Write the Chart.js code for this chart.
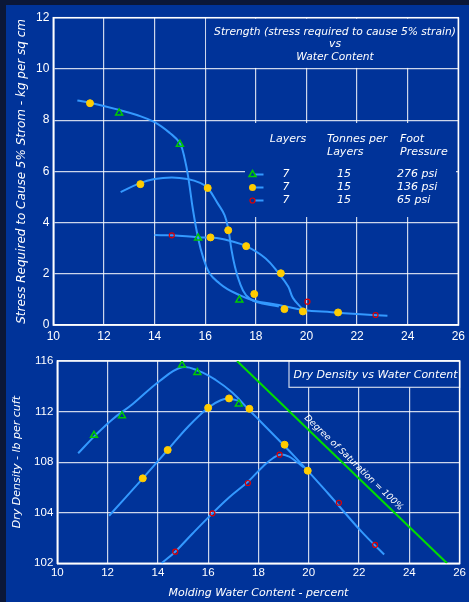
<!DOCTYPE html>
<html>
<head>
<meta charset="utf-8">
<script src="https://cdn.jsdelivr.net/npm/chart.js@4.4.1/dist/chart.umd.min.js"></script>
<style>
  html, body { margin: 0; padding: 0; background: #0b1738; }
  #page { position: relative; width: 469px; height: 602px; overflow: hidden; }
  #panel { position: absolute; left: 6px; top: 5px; right: 0; bottom: 0; background: #003399; }
  canvas { position: absolute; left: 0; }
  #top { top: 0; }
  #bottom { top: 340px; }
</style>
</head>
<body>
<div id="page">
  <div id="panel"></div>
  <canvas id="top" width="469" height="340"></canvas>
  <canvas id="bottom" width="469" height="262"></canvas>
</div>
<script>
// ---- upper chart: strength vs water content ----
var str276W = [12.6, 15.0, 15.72, 17.35]
var str276S = [8.28, 7.06, 3.40, 0.98]
var str136W = [11.45, 13.44, 16.1, 16.21, 16.91, 17.62, 17.94, 18.99, 19.13, 19.86, 21.25]
var str136S = [8.66, 5.50, 5.35, 3.42, 3.70, 3.08, 1.21, 2.02, 0.62, 0.53, 0.49]
var str65W = [14.68, 20.04, 22.73]
var str65S = [3.5, 0.91, 0.39]

// fitted curves as drawn on the sheet
var curveAW = [10.95, 11.45, 12.6, 13.3, 14.0, 14.6, 15.0, 15.2, 15.35, 15.52, 15.72, 15.91, 16.17, 16.57, 16.88, 17.22, 17.87, 18.91, 19.87, 21.0, 22.0, 23.2]
var curveAS = [8.77, 8.68, 8.4, 8.2, 7.92, 7.5, 7.1, 6.45, 5.65, 4.48, 3.4, 2.67, 2.02, 1.62, 1.4, 1.23, 0.97, 0.78, 0.59, 0.5, 0.43, 0.36]
var curveBW = [12.66, 13.38, 14.0, 14.68, 15.3, 15.8, 16.1, 16.5, 16.77, 16.92, 17.03, 17.16, 17.35, 17.61, 18.0, 18.91]
var curveBS = [5.19, 5.52, 5.7, 5.76, 5.7, 5.55, 5.35, 4.74, 4.28, 3.70, 2.99, 2.34, 1.69, 1.17, 0.91, 0.72]
var curveCW = [14.0, 14.68, 15.72, 16.23, 16.57, 17.0, 17.62, 18.39, 18.91, 19.28, 19.47, 19.87]
var curveCS = [3.51, 3.5, 3.43, 3.41, 3.38, 3.28, 3.08, 2.6, 2.01, 1.5, 1.05, 0.59]

// ---- lower chart: dry density vs water content ----
var den276W = [11.46, 12.57, 14.96, 15.57, 17.22]
var den276D = [110.12, 111.67, 115.68, 115.1, 112.6]
var den136W = [13.4, 14.39, 16.0, 16.83, 17.64, 19.04, 19.96]
var den136D = [106.72, 108.96, 112.3, 113.04, 112.22, 109.38, 107.32]
var den65W = [14.69, 16.17, 17.58, 18.84, 21.2, 22.64]
var den65D = [100.92, 103.95, 106.35, 108.59, 104.79, 101.45]

var dCurveAW = [10.83, 11.5, 12.2, 13.0, 14.06, 14.96, 15.64, 16.3, 16.96, 17.64, 18.14, 19.46, 20.78, 22.1, 23.0]
var dCurveAD = [108.7, 110.1, 111.4, 112.6, 114.4, 115.5, 115.2, 114.5, 113.5, 112.1, 111.1, 108.4, 105.5, 102.5, 100.7]
var dCurveBW = [12.06, 13.4, 14.39, 15.2, 16.0, 16.5, 16.9, 17.3]
var dCurveBD = [103.76, 106.72, 108.96, 110.8, 112.3, 112.9, 113.0, 112.8]
var dCurveCW = [14.15, 14.69, 15.4, 16.17, 16.83, 17.58, 18.2, 18.6, 18.9, 19.2, 19.5, 19.8]
var dCurveCD = [100.0, 100.92, 102.4, 103.95, 105.2, 106.45, 107.7, 108.35, 108.6, 108.45, 108.05, 107.6]
var satW = [17.15, 25.5]
var satD = [116, 100]

var legendLayers = ['7', '7', '7']
var legendTonnes = ['15', '15', '15']
var legendPressure = ['276 psi', '136 psi', '65 psi']

function pts(xs, ys) {
  return xs.map(function (x, i) { return { x: x, y: ys[i] } })
}

var ital = function (sz) { return 'italic ' + sz + 'px "DejaVu Sans"' }
var blueLine = '#3399ff'
var green = '#00cc00'
var yellow = '#ffcc00'
var red = '#e00000'
var gridCol = 'rgba(255,255,255,0.8)'
var panel = '#003399'

function markerSet(data, kind) {
  var ds = { data: data, showLine: false, pointHoverRadius: 0 }
  if (kind == 'tri') {
    ds.pointStyle = 'triangle'; ds.pointRadius = 4; ds.pointBorderWidth = 1.5
    ds.pointBackgroundColor = 'rgba(0,0,0,0)'; ds.pointBorderColor = green
  } else if (kind == 'dot') {
    ds.pointStyle = 'circle'; ds.pointRadius = 3.5; ds.pointBorderWidth = 1
    ds.pointBackgroundColor = yellow; ds.pointBorderColor = yellow
  } else {
    ds.pointStyle = 'circle'; ds.pointRadius = 2.5; ds.pointBorderWidth = 1.2
    ds.pointBackgroundColor = 'rgba(0,0,0,0)'; ds.pointBorderColor = red
  }
  return ds
}

function curveSet(data, col, w) {
  return { data: data, showLine: true, pointRadius: 0, pointHoverRadius: 0,
    borderColor: col || blueLine, borderWidth: w || 2, tension: 0.4, fill: false }
}

function drawMarker(ctx, kind, x, y) {
  ctx.save()
  ctx.strokeStyle = blueLine; ctx.lineWidth = 2
  ctx.beginPath(); ctx.moveTo(x, y); ctx.lineTo(x + 11, y); ctx.stroke()
  if (kind == 'tri') {
    ctx.strokeStyle = green; ctx.lineWidth = 1.5; ctx.fillStyle = panel
    ctx.beginPath(); ctx.moveTo(x, y - 4); ctx.lineTo(x + 3.5, y + 2); ctx.lineTo(x - 3.5, y + 2); ctx.closePath()
    ctx.fill(); ctx.stroke()
  } else if (kind == 'dot') {
    ctx.fillStyle = yellow
    ctx.beginPath(); ctx.arc(x, y, 3.5, 0, Math.PI * 2); ctx.fill()
  } else {
    ctx.strokeStyle = red; ctx.lineWidth = 1.2; ctx.fillStyle = panel
    ctx.beginPath(); ctx.arc(x, y, 2.5, 0, Math.PI * 2); ctx.fill(); ctx.stroke()
  }
  ctx.restore()
}

var topPlugin = {
  id: 'topDecor',
  beforeDatasetsDraw: function (chart) {
    var ctx = chart.ctx, a = chart.chartArea, xs = chart.scales.x, ys = chart.scales.y
    ctx.save()
    ctx.fillStyle = panel
    // title cell, no grid inside
    ctx.fillRect(xs.getPixelForValue(16) + 1, a.top + 1, a.right - xs.getPixelForValue(16) - 2, ys.getPixelForValue(10) - a.top - 2)
    // legend table area
    ctx.fillRect(245, 123, 211, 94)
    ctx.strokeStyle = '#ffffff'; ctx.lineWidth = 1.5
    ctx.strokeRect(a.left, a.top, a.right - a.left, a.bottom - a.top)
    ctx.restore()
  },
  afterDraw: function (chart) {
    var ctx = chart.ctx
    ctx.save()
    ctx.fillStyle = '#ffffff'
    ctx.textBaseline = 'middle'
    ctx.textAlign = 'center'
    ctx.font = ital(10.7)
    ctx.fillText('Strength (stress required to cause 5% strain)', 335, 32)
    ctx.fillText('vs', 335, 44.5)
    ctx.fillText('Water Content', 335, 57)
    ctx.font = ital(11)
    ctx.fillText('Layers', 288, 139)
    ctx.textAlign = 'left'
    ctx.fillText('Tonnes per', 327, 139)
    ctx.fillText('Layers', 327, 152)
    ctx.fillText('Foot', 400, 139)
    ctx.fillText('Pressure', 400, 152)
    var kinds = ['tri', 'dot', 'ring']
    var rowY = [174.5, 187.5, 200.5]
    for (var i = 0; i < 3; i++) {
      drawMarker(ctx, kinds[i], 252.5, rowY[i])
      ctx.fillStyle = '#ffffff'
      ctx.textAlign = 'center'
      ctx.fillText(legendLayers[i], 286, rowY[i])
      ctx.fillText(legendTonnes[i], 344, rowY[i])
      ctx.textAlign = 'left'
      ctx.fillText(legendPressure[i], 397, rowY[i])
    }
    ctx.restore()
  }
}

var bottomPlugin = {
  id: 'bottomDecor',
  beforeDatasetsDraw: function (chart) {
    var ctx = chart.ctx, a = chart.chartArea
    ctx.save()
    ctx.fillStyle = panel
    ctx.fillRect(289, a.top, a.right - 289, 47.3 - a.top)
    ctx.strokeStyle = gridCol; ctx.lineWidth = 1.2
    ctx.strokeRect(289, a.top, a.right - 289, 47.3 - a.top)
    ctx.strokeStyle = '#ffffff'; ctx.lineWidth = 1.5
    ctx.strokeRect(a.left, a.top, a.right - a.left, a.bottom - a.top)
    ctx.restore()
  },
  afterDraw: function (chart) {
    var ctx = chart.ctx, xs = chart.scales.x, ys = chart.scales.y
    ctx.save()
    ctx.fillStyle = '#ffffff'
    ctx.textBaseline = 'middle'
    ctx.textAlign = 'center'
    ctx.font = ital(11)
    ctx.fillText('Dry Density vs Water Content', 375.5, 35)
    // label along the saturation line
    var x1 = xs.getPixelForValue(satW[0]), y1 = ys.getPixelForValue(satD[0])
    var x2 = xs.getPixelForValue(satW[1]), y2 = ys.getPixelForValue(satD[1])
    var ang = Math.atan2(y2 - y1, x2 - x1)
    var t = 0.53
    ctx.translate(x1 + (x2 - x1) * t, y1 + (y2 - y1) * t)
    ctx.rotate(ang)
    ctx.font = ital(9)
    ctx.fillText('Degree of Saturation = 100%', 0, -7.5)
    ctx.restore()
  }
}

Chart.defaults.font.family = '"Liberation Sans", Arial, sans-serif'
Chart.defaults.color = '#ffffff'

var topChart = new Chart(document.getElementById('top').getContext('2d'), {
  type: 'scatter',
  data: {
    datasets: [
      markerSet(pts(str276W, str276S), 'tri'),
      markerSet(pts(str136W, str136S), 'dot'),
      markerSet(pts(str65W, str65S), 'ring'),
      curveSet(pts(curveAW, curveAS)),
      curveSet(pts(curveBW, curveBS)),
      curveSet(pts(curveCW, curveCS))
    ]
  },
  options: {
    responsive: false,
    animation: false,
    events: [],
    layout: { autoPadding: false, padding: { left: 0, right: 5, top: 17.7, bottom: 0 } },
    plugins: { legend: { display: false }, tooltip: { enabled: false } },
    scales: {
      x: {
        type: 'linear', min: 10, max: 26,
        ticks: { stepSize: 2, padding: 4, color: '#fff', font: { size: 12 } },
        grid: { color: gridCol, lineWidth: 1.2, drawTicks: false },
        border: { color: '#fff', width: 1.5 },
        afterFit: function (s) { s.height = 15 }
      },
      y: {
        type: 'linear', min: 0, max: 12,
        ticks: { stepSize: 2, padding: 4, color: '#fff', font: { size: 12 } },
        grid: { color: gridCol, lineWidth: 1.2, drawTicks: false },
        border: { color: '#fff', width: 1.5 },
        title: { display: true, text: 'Stress Required to Cause 5% Strom - kg per sq cm', color: '#fff',
          font: { family: 'DejaVu Sans', style: 'italic', size: 12 }, padding: { top: 15, bottom: 0 } },
        afterFit: function (s) { s.width = 53.3 }
      }
    }
  },
  plugins: [topPlugin]
})

var bottomChart = new Chart(document.getElementById('bottom').getContext('2d'), {
  type: 'scatter',
  data: {
    datasets: [
      markerSet(pts(den276W, den276D), 'tri'),
      markerSet(pts(den136W, den136D), 'dot'),
      markerSet(pts(den65W, den65D), 'ring'),
      curveSet(pts(dCurveAW, dCurveAD)),
      curveSet(pts(dCurveBW, dCurveBD)),
      curveSet(pts(dCurveCW, dCurveCD)),
      Object.assign(curveSet(pts(satW, satD), '#00dd00', 2), { tension: 0 })
    ]
  },
  options: {
    responsive: false,
    animation: false,
    events: [],
    layout: { autoPadding: false, padding: { left: 0, right: 7, top: 21, bottom: 0 } },
    plugins: { legend: { display: false }, tooltip: { enabled: false } },
    scales: {
      x: {
        type: 'linear', min: 10, max: 26,
        ticks: { stepSize: 2, padding: 3, color: '#fff', font: { size: 11.5 } },
        grid: { color: gridCol, lineWidth: 1.2, drawTicks: false },
        border: { color: '#fff', width: 1.5 },
        title: { display: true, text: 'Molding Water Content - percent', color: '#fff',
          font: { family: 'DejaVu Sans', style: 'italic', size: 11 }, padding: { top: 0, bottom: 2.4 } },
        afterFit: function (s) { s.height = 38.7 }
      },
      y: {
        type: 'linear', min: 100, max: 116,
        ticks: { stepSize: 4, padding: 4, color: '#fff', font: { size: 11.5 },
          callback: function (v) { return v == 100 ? '102' : v } },
        grid: { color: gridCol, lineWidth: 1.2, drawTicks: false },
        border: { color: '#fff', width: 1.5 },
        title: { display: true, text: 'Dry Density - lb per cuft', color: '#fff',
          font: { family: 'DejaVu Sans', style: 'italic', size: 11 }, padding: { top: 11, bottom: 0 } },
        afterFit: function (s) { s.width = 57.3 }
      }
    }
  },
  plugins: [bottomPlugin]
})
</script>
</body>
</html>
